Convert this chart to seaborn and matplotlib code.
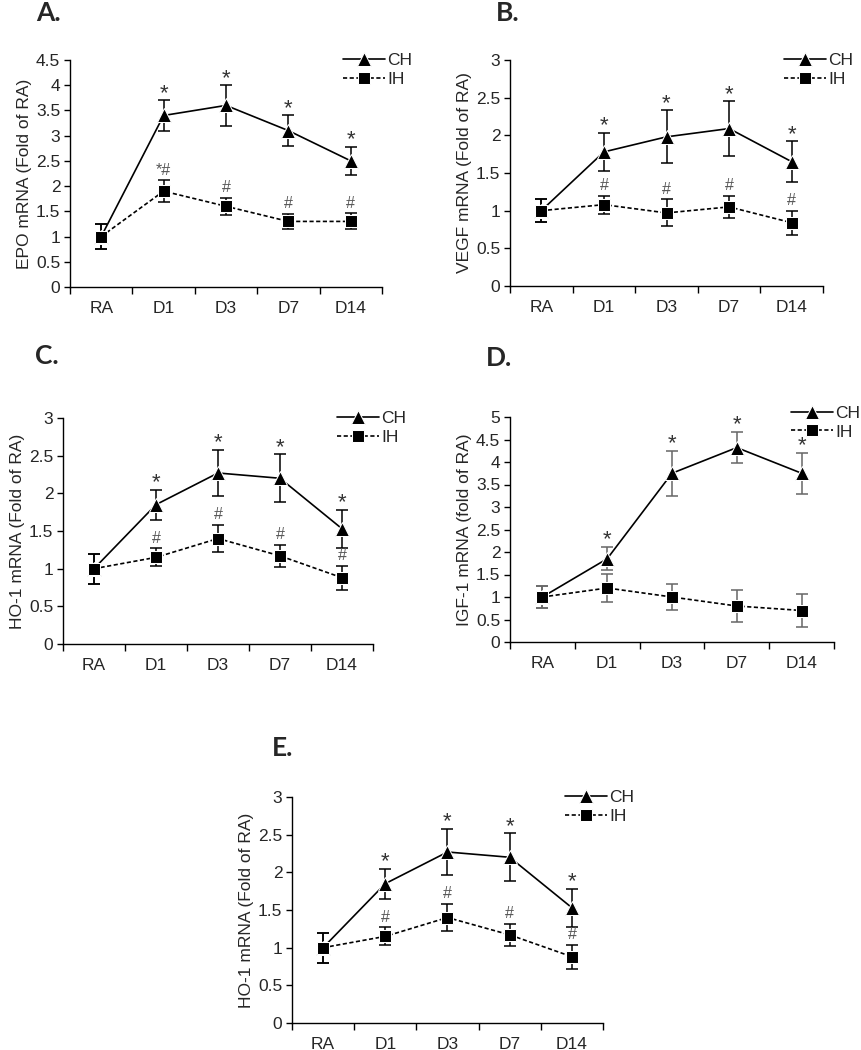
import numpy as np
import pandas as pd
import matplotlib
matplotlib.use('Agg')
import matplotlib.pyplot as plt
import seaborn as sns

sns.set_style('ticks')
plt.rcParams['font.family'] = ['Liberation Sans', 'DejaVu Sans']

days = ['RA', 'D1', 'D3', 'D7', 'D14']

# A. EPO
epo_ch = [1.0, 3.4, 3.6, 3.1, 2.5]
epo_ch_err = [0.25, 0.3, 0.4, 0.3, 0.28]
epo_ih = [1.0, 1.9, 1.6, 1.3, 1.3]
epo_ih_err = [0.25, 0.22, 0.17, 0.15, 0.16]
epo_ch_sig = ['', '*', '*', '*', '*']
epo_ih_sig = ['', '*#', '#', '#', '#']

# B. VEGF
vegf_ch = [1.0, 1.78, 1.98, 2.09, 1.65]
vegf_ch_err = [0.15, 0.25, 0.35, 0.36, 0.27]
vegf_ih = [1.0, 1.08, 0.97, 1.05, 0.84]
vegf_ih_err = [0.15, 0.12, 0.18, 0.15, 0.16]
vegf_ch_sig = ['', '*', '*', '*', '*']
vegf_ih_sig = ['', '#', '#', '#', '#']

# C. HO-1
ho1_ch = [1.0, 1.85, 2.27, 2.2, 1.53]
ho1_ch_err = [0.2, 0.2, 0.31, 0.32, 0.25]
ho1_ih = [1.0, 1.15, 1.4, 1.17, 0.88]
ho1_ih_err = [0.2, 0.12, 0.18, 0.15, 0.16]
ho1_ch_sig = ['', '*', '*', '*', '*']
ho1_ih_sig = ['', '#', '#', '#', '#']

# D. IGF-1
igf_ch = [1.0, 1.85, 3.75, 4.32, 3.75]
igf_ch_err = [0.25, 0.26, 0.5, 0.35, 0.46]
igf_ih = [1.0, 1.2, 1.0, 0.8, 0.7]
igf_ih_err = [0.25, 0.32, 0.28, 0.35, 0.37]
igf_ch_sig = ['', '*', '*', '*', '*']
igf_ih_sig = ['', '', '', '', '']

x_pos = np.arange(len(days))
FS = 12.5


def draw(ax, ch, ch_err, ih, ih_err, ch_sig, ih_sig, ymax, ystep, ylabel,
         leg_xy, errcolor='black'):
    df = pd.DataFrame({'x': np.concatenate([x_pos, x_pos]),
                       'value': ch + ih,
                       'group': ['CH'] * 5 + ['IH'] * 5})
    # error bars under the lines
    ax.errorbar(x_pos, ch, yerr=ch_err, fmt='none', ecolor=errcolor,
                elinewidth=1.1, capsize=4, capthick=1.1, zorder=1)
    ax.errorbar(x_pos, ih, yerr=ih_err, fmt='none', ecolor=errcolor,
                elinewidth=1.1, capsize=4, capthick=1.1, zorder=1)
    sns.lineplot(data=df[df.group == 'CH'], x='x', y='value', color='black',
                 marker='^', markersize=10, linewidth=1.2, label='CH',
                 ax=ax, zorder=3)
    sns.lineplot(data=df[df.group == 'IH'], x='x', y='value', color='black',
                 marker='s', markersize=9, linewidth=1.2,
                 linestyle=(0, (2.5, 1.5)), label='IH', ax=ax, zorder=3)

    for i in range(5):
        if ch_sig[i]:
            ax.annotate(ch_sig[i], xy=(x_pos[i], ch[i] + ch_err[i]),
                        xytext=(0, 1), textcoords='offset points',
                        ha='center', va='baseline', fontsize=16,
                        color='#333333')
        if ih_sig[i]:
            ax.annotate(ih_sig[i], xy=(x_pos[i], ih[i] + ih_err[i]),
                        xytext=(0, 4), textcoords='offset points',
                        ha='center', va='baseline', fontsize=11.5,
                        color='#555555')

    ax.set_xlim(-0.5, 4.5)
    ax.set_xticks(np.arange(-0.5, 5, 1))
    ax.set_xticklabels([])
    ax.set_xticks(x_pos, minor=True)
    ax.set_xticklabels(days, minor=True, fontsize=FS)
    ax.tick_params(axis='x', which='major', direction='out', length=5,
                   width=1, color='black')
    ax.tick_params(axis='x', which='minor', length=0, pad=10)
    ax.set_ylim(0, ymax)
    yt = np.arange(0, ymax + ystep / 2, ystep)
    ax.set_yticks(yt)
    ax.set_yticklabels(['%g' % v for v in yt], fontsize=FS)
    ax.tick_params(axis='y', direction='out', length=4, width=1,
                   color='black', pad=3)
    ax.set_xlabel('')
    ax.set_ylabel(ylabel, fontsize=FS, labelpad=3)
    for s in ['top', 'right']:
        ax.spines[s].set_visible(False)
    for s in ['left', 'bottom']:
        ax.spines[s].set_color('black')
        ax.spines[s].set_linewidth(1)
    ax.legend(loc='upper left', bbox_to_anchor=leg_xy, frameon=False,
              fontsize=FS, handlelength=2.4, handletextpad=0.15,
              labelspacing=0.2, borderpad=0, borderaxespad=0, numpoints=1)


W, H = 862, 1050
fig = plt.figure(figsize=(W / 100, H / 100), dpi=100)


def px_axes(left, top, right, bottom):
    return fig.add_axes([left / W, 1 - bottom / H, (right - left) / W,
                         (bottom - top) / H])


axA = px_axes(70, 60, 382, 287)
axB = px_axes(510, 60, 823, 286)
axC = px_axes(63, 418, 373, 644)
axD = px_axes(510, 417, 834, 642)
axE = px_axes(292, 797, 603, 1023)

draw(axA, epo_ch, epo_ch_err, epo_ih, epo_ih_err, epo_ch_sig, epo_ih_sig,
     4.5, 0.5, 'EPO mRNA (Fold of RA)', (0.875, 1.03))
draw(axB, vegf_ch, vegf_ch_err, vegf_ih, vegf_ih_err, vegf_ch_sig,
     vegf_ih_sig, 3, 0.5, 'VEGF mRNA (Fold of RA)', (0.875, 1.03))
draw(axC, ho1_ch, ho1_ch_err, ho1_ih, ho1_ih_err, ho1_ch_sig, ho1_ih_sig,
     3, 0.5, 'HO-1 mRNA (Fold of RA)', (0.884, 1.03))
draw(axD, igf_ch, igf_ch_err, igf_ih, igf_ih_err, igf_ch_sig, igf_ih_sig,
     5, 0.5, 'IGF-1 mRNA (fold of RA)', (0.868, 1.05), errcolor='#666666')
draw(axE, ho1_ch, ho1_ch_err, ho1_ih, ho1_ih_err, ho1_ch_sig, ho1_ih_sig,
     3, 0.5, 'HO-1 mRNA (Fold of RA)', (0.878, 1.03))

panel_labels = ['A.', 'B.', 'C.', 'D.', 'E.']
label_px = [(36, 1), (496, 1), (35, 344), (486, 346), (272, 736)]
for lab, (lx, ly) in zip(panel_labels, label_px):
    fig.text(lx / W, 1 - ly / H, lab, fontsize=19, fontweight='bold',
             family=['Lato', 'DejaVu Sans'], va='top', ha='left')

fig.savefig('out.png', dpi=100)
